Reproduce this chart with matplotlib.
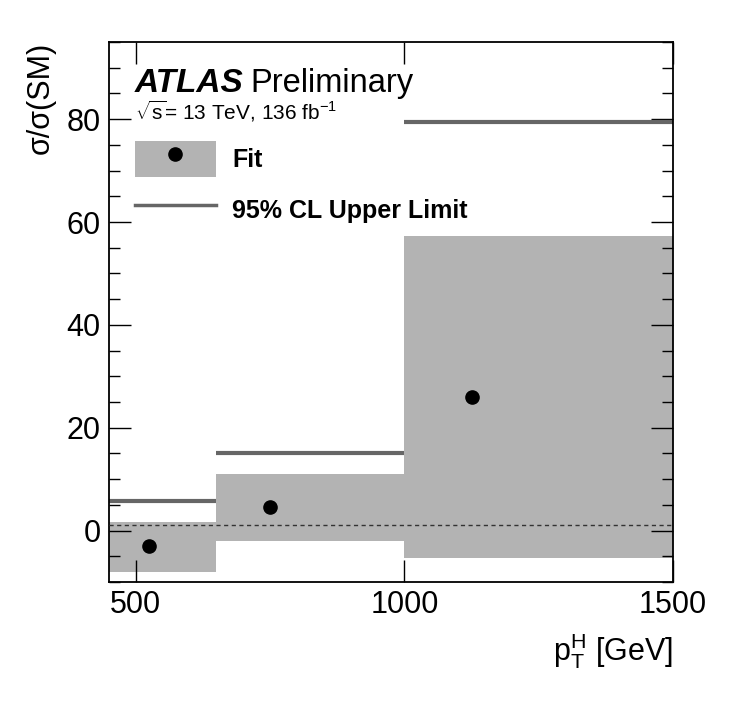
import matplotlib
matplotlib.use("Agg")
import matplotlib.pyplot as plt
from matplotlib.patches import Patch
from matplotlib.lines import Line2D
from matplotlib.ticker import MultipleLocator

plt.rcParams['font.family'] = ['Liberation Sans', 'DejaVu Sans']
plt.rcParams['mathtext.fontset'] = 'custom'
plt.rcParams['mathtext.rm'] = 'Liberation Sans'
plt.rcParams['mathtext.it'] = 'Liberation Sans:italic'

# pT bins and results
bin_edges = [450, 650, 1000, 1500]
fit_x = [525, 750, 1125]
fit_mu = [-3.0, 4.6, 26.0]
band_lo = [-8.0, -2.0, -5.3]
band_hi = [1.6, 11.0, 57.3]
upper_limit = [5.7, 15.0, 79.4]
sm_line = 1.0

fig = plt.figure(figsize=(7.45, 7.01), dpi=100)
ax = fig.add_axes([109 / 745, 1 - 582 / 701, 564 / 745, 540 / 701])

band_col = '#b3b3b3'
lim_col = '#666666'

for i in range(len(fit_x)):
    lo, hi = bin_edges[i], bin_edges[i + 1]
    ax.fill_between([lo, hi], band_lo[i], band_hi[i], color=band_col, lw=0, zorder=1)
    ax.plot([lo, hi], [upper_limit[i], upper_limit[i]], color=lim_col, lw=3,
            solid_capstyle='butt', zorder=2)

ax.axhline(sm_line, color='#333333', lw=1, ls=(0, (3, 2.5)), zorder=3)
ax.plot(fit_x, fit_mu, 'o', color='black', ms=9.5, zorder=4)

ax.set_xlim(450, 1500)
ax.set_ylim(-10, 95)
ax.xaxis.set_major_locator(MultipleLocator(500))
ax.yaxis.set_major_locator(MultipleLocator(20))
ax.yaxis.set_minor_locator(MultipleLocator(5))
ax.tick_params(which='both', direction='in', top=True, right=True, labelsize=22, pad=6)
ax.tick_params(which='major', length=16, width=1)
ax.tick_params(which='minor', length=8, width=1)
for s in ax.spines.values():
    s.set_linewidth(1.3)

ax.set_ylabel('σ/σ(SM)', fontsize=22, loc='top', labelpad=8)
ax.set_xlabel(r'$\mathrm{p}_{\mathrm{T}}^{\mathrm{H}}$ [GeV]', fontsize=22, loc='right', labelpad=8)

ax.text(0.046, 0.907, 'ATLAS', transform=ax.transAxes, fontsize=24,
        fontweight='bold', fontstyle='italic')
ax.text(0.25, 0.907, 'Preliminary', transform=ax.transAxes, fontsize=23.5)
ax.text(0.046, 0.856, r'$\sqrt{\mathrm{s}}$= 13 TeV, 136 fb$^{-1}$', transform=ax.transAxes,
        fontsize=15)

handles = [(Patch(facecolor=band_col, edgecolor='none'),
            Line2D([], [], marker='o', color='black', ls='none', ms=9.5)),
           Line2D([], [], color=lim_col, lw=2.5)]
ax.legend(handles, ['Fit', '95% CL Upper Limit'], loc='upper left',
          bbox_to_anchor=(0.046, 0.817), frameon=False, borderpad=0, borderaxespad=0,
          handlelength=3.24, handleheight=1.84, handletextpad=0.64, labelspacing=0.6,
          prop={'weight': 'bold', 'size': 18})

fig.savefig('out.png', dpi=100)
